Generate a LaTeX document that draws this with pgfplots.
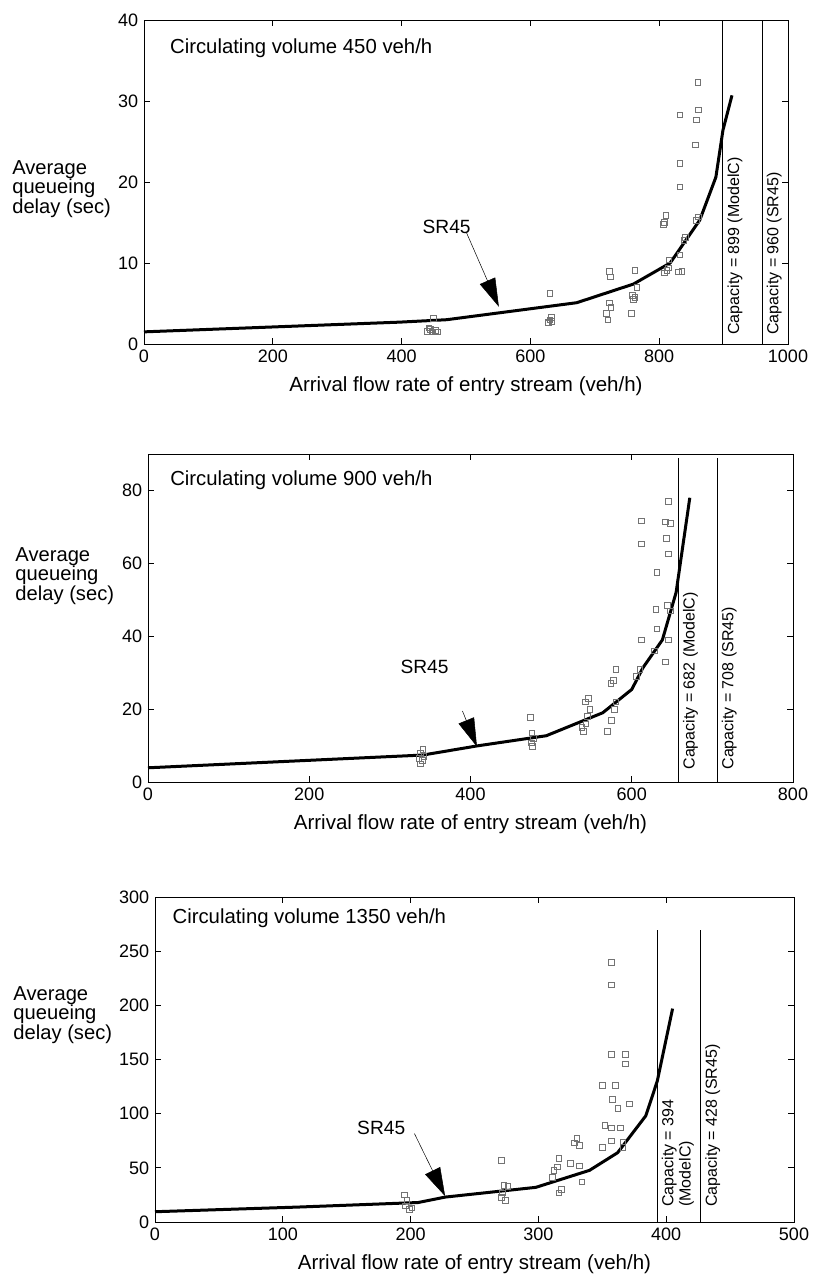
\documentclass[border=0pt]{standalone}
\usepackage{fontspec}
\setmainfont{Liberation Sans}
\usepackage{pgfplots}
\pgfplotsset{compat=1.18}
\usetikzlibrary{arrows.meta}

\pgfplotsset{
  qd/.style={
    scale only axis,
    clip=false,
    xmin=0, ymin=0,
    axis line style={line width=0.55pt},
    tick style={black, line width=0.45pt},
    major tick length=3.5pt,
    ticklabel style={font=\fontsize{10.8}{12}\selectfont},
    /pgf/number format/assume math mode=true,
    /pgf/number format/set thousands separator={},
    xlabel={Arrival flow rate of entry stream (veh/h)},
    xlabel style={font=\fontsize{12.3}{13}\selectfont, inner sep=0pt,
      at={(axis description cs:0.5,0)}, anchor=north, yshift=-19.5pt},
    ylabel={Average\\queueing\\delay (sec)},
    ylabel style={rotate=-90, align=left, anchor=west, inner sep=0pt,
      font=\fontsize{12.1}{11.7}\selectfont},
  },
  obs/.style={only marks, mark=square, mark size=1.7pt,
    mark options={draw=black!55, line width=0.35pt}},
  sr/.style={black, line width=1.8pt, no marks, line join=round},
  cap/.style={black, line width=0.6pt, no marks},
}
\tikzset{
  caplab/.style={rotate=90, anchor=north west, align=left, inner sep=2.5pt,
    font=\fontsize{9.6}{10.4}\selectfont},
  ttl/.style={anchor=base west, inner sep=0pt, font=\fontsize{12.2}{13}\selectfont},
  srlab/.style={inner sep=0pt, font=\fontsize{11.5}{12}\selectfont},
  arr/.style={line width=0.3pt, -{Triangle[length=17pt, width=10pt]}},
}

\begin{document}
\begin{tikzpicture}
% page frame: 814 x 1277 px at 0.6pt per px
\useasboundingbox (0pt,0pt) rectangle (488.4pt,-766.2pt);

% ---- circulating volume 450 ----
\begin{axis}[qd,
  at={(86.4pt,-206.4pt)}, anchor=south west,
  width=386.4pt, height=194.4pt,
  xmax=1000, ymax=40,
  xtick={0,200,...,1000}, ytick={0,10,...,40},
  ylabel style={at={(axis description cs:-0.205,0.478)}},
]
\addplot[obs] coordinates {
  (440,1.6) (445,1.8) (448,1.5) (452,1.7) (455,1.5) (449,3.2) (442,2.0)
  (628,2.7) (630,3.0) (632,3.3) (627,2.6) (633,2.8) (630,6.3)
  (720,3.0) (718,3.8) (722,5.1) (725,4.5) (724,8.3) (722,9.0)
  (757,3.8) (760,5.5) (762,5.8) (765,7.0) (762,9.1) (758,6.0)
  (808,8.8) (812,9.1) (814,9.4) (815,10.4) (808,15.0) (810,15.9) (806,14.8)
  (830,8.9) (835,9.0) (832,11.0) (838,12.8) (840,13.2) (832,19.4) (832,22.3) (832,28.3)
  (858,15.3) (861,15.7) (856,24.6) (858,27.7) (861,28.9) (860,32.3)
};
\addplot[sr] coordinates {
  (0,1.5) (397,2.7) (470,3.0) (672,5.1) (760,7.4) (817,10.0)
  (863,15.3) (888,20.6) (899,26.4) (913,30.7)
};
\addplot[cap] coordinates {(899,0) (899,40)};
\addplot[cap] coordinates {(960,0) (960,40)};
\node[caplab] at (axis cs:899,0.6) {Capacity = 899 (ModelC)};
\node[caplab] at (axis cs:960,0.6) {Capacity = 960 (SR45)};
\node[ttl] at (rel axis cs:0.040,0.898) {Circulating volume 450 veh/h};
\node[srlab] at (axis cs:470,14.4) {SR45};
\draw[arr] (axis cs:501,13.7) -- (axis cs:551,4.6);
\end{axis}

% ---- circulating volume 900 ----
\begin{axis}[qd,
  at={(88.8pt,-469.2pt)}, anchor=south west,
  width=387pt, height=196.8pt,
  xmax=800, ymax=90,
  xtick={0,200,...,800}, ytick={0,20,...,80},
  ylabel style={at={(axis description cs:-0.206,0.628)}},
]
\addplot[obs] coordinates {
  (338,5.0) (340,6.0) (342,7.0) (338,8.0) (341,9.0) (336,6.5)
  (474,17.7) (476,13.5) (478,12.0) (475,10.8) (477,9.8)
  (540,14) (543,16) (545,18) (548,20) (542,22) (546,23) (538,15)
  (570,14) (575,17) (578,20) (580,22) (574,27) (577,28) (580,31)
  (606,29) (610,31) (612,39) (612,65.4) (612,71.7)
  (628,36) (631,42) (630,47.4) (631,57.6)
  (642,33) (645,39) (648,47) (644,48.5) (645,62.6) (643,66.8) (648,71) (642,71.4) (645,77)
};
\addplot[sr] coordinates {
  (0,3.9) (341,7.4) (408,9.9) (494,12.7) (564,19.0) (600,25.4)
  (614,31.4) (638,39.0) (655,52.0) (672,78.0)
};
\addplot[cap] coordinates {(658,0) (658,89)};
\addplot[cap] coordinates {(706,0) (706,89)};
\node[caplab] at (axis cs:658,2.2) {Capacity = 682 (ModelC)};
\node[caplab] at (axis cs:706,2.2) {Capacity = 708 (SR45)};
\node[ttl] at (rel axis cs:0.034,0.905) {Circulating volume 900 veh/h};
\node[srlab] at (axis cs:343,31.7) {SR45};
\draw[arr] (axis cs:390,19.5) -- (axis cs:408,9.7);
\end{axis}

% ---- circulating volume 1350 ----
\begin{axis}[qd,
  at={(93pt,-733.2pt)}, anchor=south west,
  width=383.4pt, height=195pt,
  xmax=500, ymax=300,
  xtick={0,100,...,500}, ytick={0,50,...,300},
  ylabel style={at={(axis description cs:-0.222,0.637)}},
]
\addplot[obs] coordinates {
  (195,25) (197,20) (199,12) (201,13) (196,15)
  (271,57) (273,34) (276,33) (271,23) (274,20) (272,27)
  (316,59) (315,51) (312,48) (311,41) (316,27) (318,30)
  (330,77) (332,71) (325,54) (332,52) (334,37) (328,73)
  (350,126) (352,89) (357,87) (350,69) (357,75) (357,240) (357,219) (357,155) (360,126) (358,113)
  (368,155) (368,146) (362,105) (371,109) (364,87) (366,74) (366,69)
};
\addplot[sr] coordinates {
  (0,9.5) (112,13.8) (206,18) (227,23) (298,32) (340,47.7)
  (362,64) (384,98) (393,130) (405,197)
};
\addplot[cap] coordinates {(393,0) (393,270)};
\addplot[cap] coordinates {(427,0) (427,270)};
\node[caplab] at (axis cs:393,10) {Capacity = 394\\(ModelC)};
\node[caplab] at (axis cs:427,10) {Capacity = 428 (SR45)};
\node[ttl] at (rel axis cs:0.027,0.92) {Circulating volume 1350 veh/h};
\node[srlab] at (axis cs:177,87) {SR45};
\draw[arr] (axis cs:203,81.6) -- (axis cs:227,23.9);
\end{axis}

\end{tikzpicture}
\end{document}
